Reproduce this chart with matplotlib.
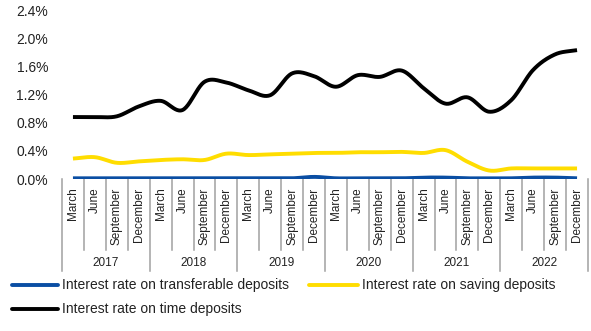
import numpy as np
import matplotlib
matplotlib.use("Agg")
import matplotlib.pyplot as plt
from matplotlib.lines import Line2D
import matplotlib.transforms as mtransforms

plt.rcParams['font.family'] = ['Liberation Sans', 'DejaVu Sans']

years = ["2017", "2018", "2019", "2020", "2021", "2022"]
months = ["March", "June", "September", "December"]

transferable = [0.01, 0.01, 0.01, 0.01, 0.01, 0.01, 0.01, 0.01, 0.01, 0.01, 0.01, 0.03,
                0.01, 0.01, 0.01, 0.01, 0.02, 0.02, 0.01, 0.01, 0.01, 0.02, 0.02, 0.01]
saving = [0.29, 0.31, 0.23, 0.25, 0.27, 0.28, 0.27, 0.36, 0.34, 0.35, 0.36, 0.37,
          0.37, 0.38, 0.38, 0.385, 0.37, 0.41, 0.245, 0.12, 0.15, 0.15, 0.15, 0.15]
time_dep = [0.88, 0.88, 0.89, 1.03, 1.11, 0.98, 1.38, 1.37, 1.26, 1.19, 1.50, 1.46,
            1.31, 1.475, 1.45, 1.54, 1.29, 1.07, 1.16, 0.955, 1.12, 1.55, 1.77, 1.83]
series_names = ["Interest rate on transferable deposits",
                "Interest rate on saving deposits",
                "Interest rate on time deposits"]


def smooth(y, n=24):
    """Catmull-Rom curve through the points (drawn like a smoothed line chart)."""
    y = np.asarray(y, float)
    x = np.arange(len(y), dtype=float)
    px = np.concatenate([[2 * x[0] - x[1]], x, [2 * x[-1] - x[-2]]])
    py = np.concatenate([[2 * y[0] - y[1]], y, [2 * y[-1] - y[-2]]])
    xs, ys = [], []
    t = np.linspace(0, 1, n, endpoint=False)
    for i in range(1, len(px) - 2):
        for arr, out in ((px, xs), (py, ys)):
            p0, p1, p2, p3 = arr[i - 1], arr[i], arr[i + 1], arr[i + 2]
            out.append(0.5 * ((2 * p1) + (-p0 + p2) * t
                              + (2 * p0 - 5 * p1 + 4 * p2 - p3) * t ** 2
                              + (-p0 + 3 * p1 - 3 * p2 + p3) * t ** 3))
    xs.append([x[-1]]); ys.append([y[-1]])
    return np.concatenate(xs), np.concatenate(ys)


W, H = 591, 331
fig = plt.figure(figsize=(W / 100, H / 100), dpi=100)
ax = fig.add_axes([62 / W, 1 - 179 / H, (588 - 62) / W, 169 / H])

c_blue, c_yellow, c_black = "#0A4EA3", "#FFDD00", "#000000"
lw = 2.8
ax.plot(*smooth(time_dep), color=c_black, lw=lw, solid_capstyle="butt", zorder=3)
ax.plot(*smooth(saving), color=c_yellow, lw=lw, solid_capstyle="butt", zorder=3)
ax.plot(*smooth(transferable), color=c_blue, lw=lw, solid_capstyle="butt", zorder=4)

n = len(years) * len(months)
ax.set_xlim(-0.5, n - 0.5)
ax.set_ylim(0, 2.4)
yt = np.arange(0, 2.41, 0.4)
ax.set_yticks(yt)
ax.set_yticklabels([f"{v:.1f}%" for v in yt], fontsize=10)
ax.tick_params(axis="y", length=0, pad=10, colors="#222222")
ax.set_xticks([])
for s in ax.spines.values():
    s.set_visible(False)

# category axis: separators and two-level labels
trans = mtransforms.blended_transform_factory(ax.transData, ax.transAxes)
sep_col = "#A0A0A0"
for i in range(n + 1):
    depth = -0.545 if i % 4 == 0 else -0.42
    ax.plot([i - 0.5, i - 0.5], [0, depth], transform=trans, color=sep_col,
            lw=1.1, clip_on=False, zorder=1)
for i in range(n):
    ax.text(i, -0.05, months[i % 4], transform=trans, rotation=90,
            ha="center", va="top", fontsize=8.5, color="#222222")
for k, yr in enumerate(years):
    ax.text(4 * k + 1.5, -0.495, yr, transform=trans, ha="center", va="center",
            fontsize=8.5, color="#222222")

# legend below the chart, laid out in two columns
def fx(px):
    return px / W


def fy(py):
    return 1 - py / H


legend_items = [(series_names[0], c_blue, 12, 58, 285),
                (series_names[1], c_yellow, 309, 358, 285),
                (series_names[2], c_black, 12, 58, 309)]
for label, col, x0, x1, yc in legend_items:
    fig.add_artist(Line2D([fx(x0), fx(x1)], [fy(yc), fy(yc)], color=col, lw=lw,
                          transform=fig.transFigure, solid_capstyle="round"))
    fig.text(fx(x1 + 4), fy(yc), label, ha="left", va="center", fontsize=10,
             color="#222222")

fig.savefig("out.png", dpi=100)
